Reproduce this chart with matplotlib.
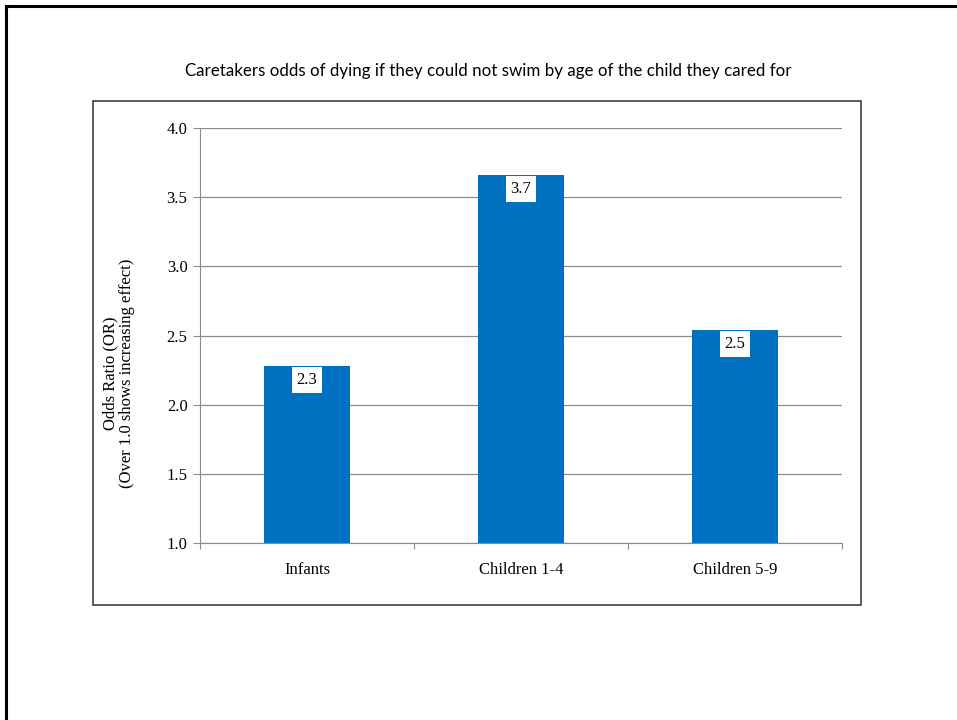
import matplotlib.pyplot as plt
from matplotlib.patches import Rectangle
from matplotlib.lines import Line2D

categories = ['Infants', 'Children 1-4', 'Children 5-9']
odds_ratio = [2.28, 3.66, 2.54]
bar_labels = ['2.3', '3.7', '2.5']
y_ticks = [1.0, 1.5, 2.0, 2.5, 3.0, 3.5, 4.0]

serif = ['Liberation Serif', 'DejaVu Serif']

fig = plt.figure(figsize=(9.57, 7.2), dpi=100)

# slide frame (top and left edges)
fig.add_artist(Line2D([6 / 957, 1.0], [1 - 6 / 720, 1 - 6 / 720], color='black', lw=2.2))
fig.add_artist(Line2D([6 / 957, 6 / 957], [0.0, 1 - 6 / 720], color='black', lw=2.2))

# chart area box
fig.add_artist(Rectangle((93 / 957, 1 - 605 / 720), 768 / 957, 504 / 720,
                         transform=fig.transFigure, fill=False,
                         edgecolor='#404040', lw=1.2))

fig.text(488 / 957, 1 - 71 / 720,
         'Caretakers odds of dying if they could not swim by age of the child they cared for',
         ha='center', va='center', fontsize=12.2, family=['Lato', 'DejaVu Sans'])

ax = fig.add_axes([200 / 957, 1 - 543 / 720, 642 / 957, 415 / 720])
x = list(range(len(categories)))
bars = ax.bar(x, [v - 1.0 for v in odds_ratio], bottom=1.0, width=0.4,
              color='#0070C0', zorder=3)

for xi, v, lab in zip(x, odds_ratio, bar_labels):
    ax.annotate(lab, (xi, v), xytext=(0, -10), textcoords='offset points',
                ha='center', va='center', fontsize=12, family=serif,
                bbox=dict(boxstyle='square,pad=0.3', fc='white', ec='none'),
                zorder=4)

ax.set_xlim(-0.5, 2.5)
ax.set_ylim(1.0, 4.0)
ax.set_yticks(y_ticks)
ax.set_yticklabels([f'{t:.1f}' for t in y_ticks], family=serif, fontsize=12)
ax.yaxis.grid(True, color='#8c8c8c', lw=0.9, zorder=0)

ax.set_xticks([-0.5, 0.5, 1.5, 2.5])
ax.set_xticklabels([])
ax.set_xticks(x, minor=True)
ax.set_xticklabels(categories, minor=True, family=serif, fontsize=12)
ax.tick_params(axis='x', which='minor', length=0, pad=14)
ax.tick_params(axis='x', which='major', length=4, color='#8c8c8c', direction='out')
ax.tick_params(axis='y', length=5, color='#8c8c8c', pad=4)

for s in ['top', 'right']:
    ax.spines[s].set_visible(False)
ax.spines['left'].set_color('#8c8c8c')
ax.spines['bottom'].set_color('#8c8c8c')

ax.set_ylabel('Odds Ratio (OR)\n(Over 1.0 shows increasing effect)',
              family=serif, fontsize=12, linespacing=1.0)
ax.yaxis.set_label_coords(-0.102, 0.41)

fig.savefig('out.png', dpi=100)
